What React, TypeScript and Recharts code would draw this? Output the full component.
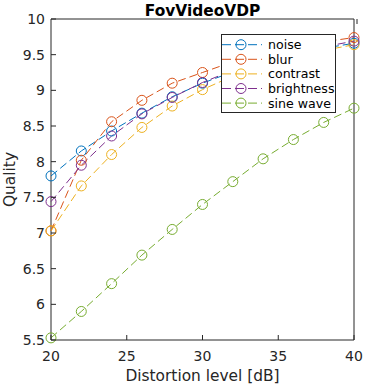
import { Legend, Line, LineChart, ReferenceArea, XAxis, YAxis } from "recharts";

const distortion = [20, 22, 24, 26, 28, 30, 32, 34, 36, 38, 40];
const noise = [7.8, 8.15, 8.43, 8.68, 8.91, 9.1, 9.26, 9.39, 9.5, 9.59, 9.66];
const blur = [7.03, 8.02, 8.56, 8.86, 9.1, 9.25, 9.4, 9.52, 9.61, 9.68, 9.74];
const contrast = [7.03, 7.66, 8.1, 8.48, 8.78, 9.01, 9.2, 9.34, 9.46, 9.56, 9.64];
const brightness = [7.44, 7.95, 8.36, 8.67, 8.9, 9.11, 9.28, 9.41, 9.52, 9.61, 9.69];
const sineWave = [5.53, 5.9, 6.29, 6.69, 7.05, 7.4, 7.72, 8.04, 8.31, 8.55, 8.75];

const xTicks = [20, 25, 30, 35, 40];
const yTicks = [5.5, 6, 6.5, 7, 7.5, 8, 8.5, 9, 9.5, 10];

const series = [
  { key: "noise", name: "noise", color: "#0072BD", values: noise },
  { key: "blur", name: "blur", color: "#D95319", values: blur },
  { key: "contrast", name: "contrast", color: "#EDB120", values: contrast },
  { key: "brightness", name: "brightness", color: "#7E2F8E", values: brightness },
  { key: "sine", name: "sine wave", color: "#77AC30", values: sineWave },
];

const data = distortion.map((d, i) => {
  const row: Record<string, number> = { d };
  series.forEach((s) => {
    row[s.key] = s.values[i];
  });
  return row;
});

const ink = "#262626";
const font = "DejaVu Sans";
const TICK = 5;

function OpenCircle(props: any) {
  const { cx, cy, stroke } = props;
  if (cx == null || cy == null) return null;
  return <circle cx={cx} cy={cy} r={5} fill="none" stroke={stroke} strokeWidth={1} />;
}

// inward (matlab style) ticks, drawn by hand in the tick renderer
function BottomTick(p: any) {
  return (
    <g>
      <line x1={p.x} x2={p.x} y1={p.y} y2={p.y - TICK} stroke={ink} />
      <text x={p.x} y={p.y + 16} textAnchor="middle" dominantBaseline="central" fontSize={14} fontFamily={font} fill={ink}>
        {p.payload.value}
      </text>
    </g>
  );
}

function TopTick(p: any) {
  return <line x1={p.x} x2={p.x} y1={p.y} y2={p.y + TICK} stroke={ink} />;
}

function LeftTick(p: any) {
  return (
    <g>
      <line x1={p.x} x2={p.x + TICK} y1={p.y} y2={p.y} stroke={ink} />
      <text x={p.x - 6} y={p.y} textAnchor="end" dominantBaseline="central" fontSize={14} fontFamily={font} fill={ink}>
        {p.payload.value}
      </text>
    </g>
  );
}

function RightTick(p: any) {
  return <line x1={p.x} x2={p.x - TICK} y1={p.y} y2={p.y} stroke={ink} />;
}

// legend keeps the plotting order, not alphabetical
function LegendBox() {
  return (
    <svg width={116} height={80} style={{ display: "block" }}>
      <rect x={0.5} y={0.5} width={114} height={78} fill="#fff" stroke={ink} strokeWidth={1} />
      {series.map((s, i) => {
        const y = 10.7 + i * 14.6;
        return (
          <g key={s.key}>
            <line x1={1} x2={41} y1={y} y2={y} stroke={s.color} strokeDasharray="9 4" />
            <circle cx={20} cy={y} r={5} fill="none" stroke={s.color} />
            <text x={47} y={y} dominantBaseline="central" fontSize={12.6} fontFamily={font} fill="#000">
              {s.name}
            </text>
          </g>
        );
      })}
    </svg>
  );
}

export default function App() {
  return (
    <div style={{ position: "absolute", left: 0, top: 0, background: "#fff" }}>
      <LineChart width={365} height={385} data={data} margin={{ top: 18, right: 10, left: 6, bottom: 0 }}>
        <XAxis
          dataKey="d"
          type="number"
          domain={[20, 40]}
          ticks={xTicks}
          height={45}
          tickSize={0}
          tickMargin={0}
          axisLine={false}
          tickLine={false}
          tick={<BottomTick />}
          label={{
            content: (p: any) => (
              <text
                x={p.viewBox.x + p.viewBox.width / 2}
                y={376}
                textAnchor="middle"
                dominantBaseline="central"
                fontSize={15.4}
                fontFamily={font}
                fill={ink}
              >
                Distortion level [dB]
              </text>
            ),
          }}
        />
        <XAxis
          xAxisId="top"
          orientation="top"
          type="number"
          domain={[20, 40]}
          ticks={xTicks}
          height={1}
          tickSize={0}
          tickMargin={0}
          axisLine={false}
          tickLine={false}
          tick={<TopTick />}
          label={{
            content: (p: any) => (
              <text
                x={p.viewBox.x + p.viewBox.width / 2}
                y={11}
                textAnchor="middle"
                dominantBaseline="central"
                fontSize={15.4}
                fontWeight="bold"
                fontFamily={font}
                fill="#000"
              >
                FovVideoVDP
              </text>
            ),
          }}
        />
        <YAxis
          type="number"
          domain={[5.5, 10]}
          ticks={yTicks}
          width={45}
          tickSize={0}
          tickMargin={0}
          axisLine={false}
          tickLine={false}
          tick={<LeftTick />}
          label={{
            content: (p: any) => {
              const cy = p.viewBox.y + p.viewBox.height / 2;
              return (
                <text
                  x={9.5}
                  y={cy}
                  transform={`rotate(-90, 9.5, ${cy})`}
                  textAnchor="middle"
                  dominantBaseline="central"
                  fontSize={15.4}
                  fontFamily={font}
                  fill={ink}
                >
                  Quality
                </text>
              );
            },
          }}
        />
        <YAxis
          yAxisId="right"
          orientation="right"
          type="number"
          domain={[5.5, 10]}
          ticks={yTicks}
          width={1}
          tickSize={0}
          tickMargin={0}
          axisLine={false}
          tickLine={false}
          tick={<RightTick />}
        />
        <ReferenceArea x1={20} x2={40} y1={5.5} y2={10} fill="none" stroke={ink} strokeWidth={1} ifOverflow="visible" />
        {series.map((s) => (
          <Line
            key={s.key}
            dataKey={s.key}
            name={s.name}
            stroke={s.color}
            strokeWidth={1}
            strokeDasharray="8 4"
            dot={<OpenCircle />}
            activeDot={false}
            isAnimationActive={false}
          />
        ))}
        <Legend
          layout="horizontal"
          verticalAlign="middle"
          align="center"
          content={<LegendBox />}
          wrapperStyle={{ left: 221, top: 34, width: 116, height: 80 }}
        />
      </LineChart>
    </div>
  );
}
